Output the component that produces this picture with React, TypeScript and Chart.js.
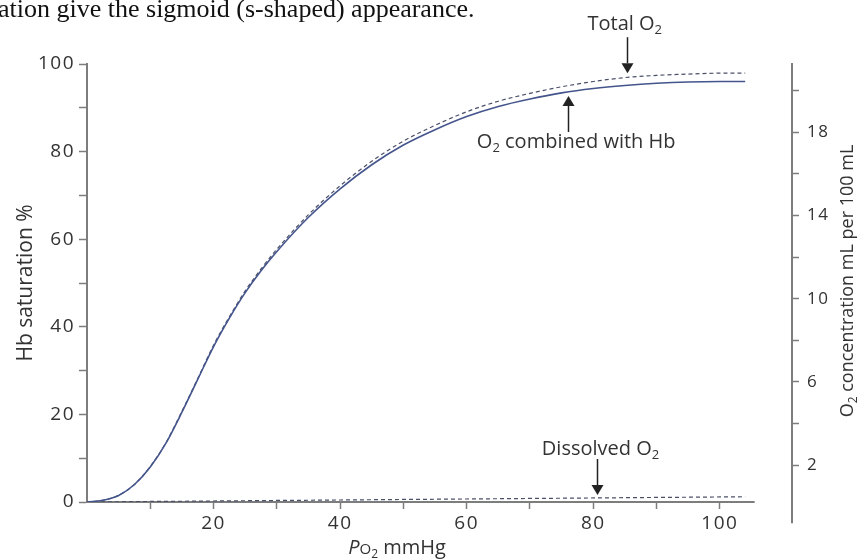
import React, { useEffect, useRef } from 'react';
import { Chart, registerables } from 'chart.js';

Chart.register(...registerables);

// ---- data ----
const po2 = [0, 2.5, 5, 7.5, 10, 12.5, 15, 17.5, 20, 22.5, 25, 27.5, 30, 35, 40, 45, 50, 55, 60, 65, 70, 75, 80, 85, 90, 95, 100, 104];
const hbSaturation = [0, 0.4, 1.5, 4, 8, 13.5, 20.5, 28, 35.5, 42, 47.8, 52.8, 57.2, 65, 71.5, 77, 81.5, 85, 88, 90.3, 92, 93.4, 94.4, 95.1, 95.6, 95.9, 96.0, 96.0];
const totalO2 = [0, 0.4, 1.5, 4, 8.1, 13.6, 20.7, 28.2, 35.8, 42.3, 48.2, 53.2, 57.7, 65.6, 72.2, 77.8, 82.4, 86.0, 89.1, 91.5, 93.3, 94.8, 96.0, 96.9, 97.4, 97.7, 97.9, 97.9];
const dissolvedO2 = [0, 0.03, 0.06, 0.09, 0.12, 0.15, 0.17, 0.2, 0.23, 0.26, 0.29, 0.32, 0.35, 0.4, 0.46, 0.52, 0.58, 0.63, 0.69, 0.75, 0.81, 0.86, 0.92, 0.98, 1.04, 1.09, 1.15, 1.2];

const leftTickLabels = [0, 20, 40, 60, 80, 100];
const rightTickLabels = [2, 6, 10, 14, 18];
const xTickLabels = [20, 40, 60, 80, 100];

const FONT = '"Open Sans", "Noto Sans", sans-serif';
const AXIS = '#7d7d7d';
const TEXT = '#333333';
const LINE = '#44548c';
const DASH = '#4a5068';

type Part = { t: string; size: number; dy?: number; italic?: boolean };

function partsWidth(ctx: CanvasRenderingContext2D, parts: Part[]) {
  let w = 0;
  for (const p of parts) {
    ctx.font = `${p.italic ? 'italic ' : ''}${p.size}px ${FONT}`;
    w += ctx.measureText(p.t).width;
  }
  return w;
}

function drawParts(ctx: CanvasRenderingContext2D, parts: Part[], x: number, y: number, align: 'left' | 'center' | 'right') {
  ctx.save();
  (ctx as any).letterSpacing = '0px';
  ctx.textBaseline = 'alphabetic';
  ctx.textAlign = 'left';
  ctx.fillStyle = TEXT;
  const w = partsWidth(ctx, parts);
  let cx = align === 'left' ? x : align === 'center' ? x - w / 2 : x - w;
  for (const p of parts) {
    ctx.font = `${p.italic ? 'italic ' : ''}${p.size}px ${FONT}`;
    ctx.fillText(p.t, cx, y + (p.dy || 0));
    cx += ctx.measureText(p.t).width;
  }
  ctx.restore();
}

function drawArrow(ctx: CanvasRenderingContext2D, x: number, tipY: number, tailY: number) {
  const dir = Math.sign(tipY - tailY);
  const head = 10;
  const half = 6;
  ctx.save();
  ctx.strokeStyle = '#222';
  ctx.fillStyle = '#222';
  ctx.lineWidth = 1.5;
  ctx.beginPath();
  ctx.moveTo(x, tailY);
  ctx.lineTo(x, tipY - dir * head);
  ctx.stroke();
  ctx.beginPath();
  ctx.moveTo(x, tipY);
  ctx.lineTo(x - half, tipY - dir * head);
  ctx.lineTo(x + half, tipY - dir * head);
  ctx.closePath();
  ctx.fill();
  ctx.restore();
}

// annotation anchors: arrow tip in data units, text offsets in px from the tip
const annotations = [
  { parts: [{ t: 'Total O', size: 20 }, { t: '2', size: 13, dy: 4 }], x: 85.3, y: 97.9, len: -36, align: 'left' as const, dx: -40, dy: -43 },
  { parts: [{ t: 'O', size: 20 }, { t: '2', size: 13, dy: 4 }, { t: ' combined with Hb', size: 20 }], x: 76.0, y: 92.7, len: 36, align: 'right' as const, dx: 107, dy: 52 },
  { parts: [{ t: 'Dissolved O', size: 20 }, { t: '2', size: 13, dy: 4 }], x: 80.6, y: 1.6, len: -36, align: 'center' as const, dx: 3, dy: -40 },
];

const overlayPlugin = {
  id: 'overlay',
  beforeDraw(chart: any) {
    (chart.ctx as any).letterSpacing = '1.5px';
  },
  beforeDatasetsDraw(chart: any) {
    const { ctx, chartArea, scales } = chart;
    const x = scales.x;
    const y2 = scales.y2;
    ctx.save();
    ctx.strokeStyle = AXIS;
    ctx.lineWidth = 2;
    ctx.beginPath();
    ctx.moveTo(x.getPixelForValue(0) - 1, chartArea.bottom);
    ctx.lineTo(x.getPixelForValue(105.5), chartArea.bottom);
    ctx.stroke();
    ctx.beginPath();
    ctx.moveTo(chartArea.right, chartArea.bottom);
    ctx.lineTo(chartArea.right, y2.getPixelForValue(-0.8));
    ctx.stroke();
    ctx.restore();
  },
  afterDraw(chart: any) {
    const { ctx, chartArea, scales } = chart;
    (ctx as any).letterSpacing = '0px';
    const x = scales.x;
    const y = scales.y;
    for (const a of annotations) {
      const px = Math.round(x.getPixelForValue(a.x)) + 0.5;
      const tip = y.getPixelForValue(a.y);
      drawArrow(ctx, px, tip, tip + a.len);
      drawParts(ctx, a.parts, px + a.dx, tip + a.dy, a.align);
    }
    drawParts(ctx, [
      { t: 'P', size: 20, italic: true },
      { t: 'O', size: 15 },
      { t: '2', size: 12, dy: 4 },
      { t: ' mmHg', size: 20 },
    ], x.getPixelForValue(49), 554, 'center');
    ctx.save();
    ctx.translate(25, (chartArea.top + chartArea.bottom) / 2);
    ctx.rotate(-Math.PI / 2);
    drawParts(ctx, [{ t: 'Hb saturation %', size: 21 }], 0, 7, 'center');
    ctx.restore();
    ctx.save();
    ctx.translate(847, 281);
    ctx.rotate(-Math.PI / 2);
    drawParts(ctx, [
      { t: 'O', size: 18 },
      { t: '2', size: 12, dy: 4 },
      { t: ' concentration mL per 100 mL', size: 18 },
    ], 0, 6, 'center');
    ctx.restore();
  },
};

export default function App() {
  const ref = useRef<HTMLCanvasElement | null>(null);
  useEffect(() => {
    if (!ref.current) return;
    const pts = (ys: number[]) => po2.map((v, i) => ({ x: v, y: ys[i] }));
    const chart = new Chart(ref.current, {
      type: 'line',
      data: {
        datasets: [
          { label: 'O2 combined with Hb', data: pts(hbSaturation), borderColor: LINE, borderWidth: 1.6, pointRadius: 0, cubicInterpolationMode: 'monotone', fill: false },
          { label: 'Total O2', data: pts(totalO2), borderColor: DASH, borderWidth: 1.2, borderDash: [4, 3], pointRadius: 0, cubicInterpolationMode: 'monotone', fill: false },
          { label: 'Dissolved O2', data: pts(dissolvedO2), borderColor: DASH, borderWidth: 1.2, borderDash: [4, 3], pointRadius: 0, fill: false },
        ],
      },
      options: {
        animation: false,
        responsive: false,
        devicePixelRatio: 1,
        layout: { padding: { top: 64, left: 0, right: 0, bottom: 0 } },
        plugins: { legend: { display: false }, tooltip: { enabled: false }, title: { display: false } },
        scales: {
          x: {
            type: 'linear',
            min: 0,
            max: 111.4,
            afterFit: (s: any) => { s.height = 57; },
            border: { display: false },
            grid: {
              drawOnChartArea: false,
              drawTicks: true,
              tickLength: 7,
              tickWidth: 1.5,
              tickColor: (c: any) => (c.tick && c.tick.value > 0 && c.tick.value <= 100 ? AXIS : 'rgba(0,0,0,0)'),
            },
            ticks: {
              stepSize: 10,
              includeBounds: false,
              padding: 3,
              maxRotation: 0,
              autoSkip: false,
              color: TEXT,
              font: { family: FONT, size: 19 },
              callback: (v: any) => (xTickLabels.includes(Number(v)) ? String(v) : ''),
            },
          },
          y: {
            type: 'linear',
            position: 'left',
            min: 0,
            max: 100,
            afterFit: (s: any) => { s.width = 87; },
            border: { display: true, color: AXIS, width: 2 },
            grid: { drawOnChartArea: false, drawTicks: true, tickLength: 8, tickWidth: 1.5, tickColor: AXIS },
            ticks: {
              stepSize: 10,
              padding: 4,
              autoSkip: false,
              color: TEXT,
              font: { family: FONT, size: 19 },
              callback: (v: any) => (leftTickLabels.includes(Number(v)) ? String(v) : ''),
            },
          },
          y2: {
            type: 'linear',
            position: 'right',
            min: 0.226,
            max: 21.28,
            afterFit: (s: any) => { s.width = 71; },
            border: { display: true, color: AXIS, width: 2 },
            grid: { drawOnChartArea: false, drawTicks: true, tickLength: 7, tickWidth: 1.5, tickColor: AXIS },
            ticks: {
              stepSize: 2,
              includeBounds: false,
              padding: 8,
              autoSkip: false,
              color: TEXT,
              font: { family: FONT, size: 17 },
              callback: (v: any) => (rightTickLabels.includes(Number(v)) ? String(v) : ''),
            },
          },
        },
      },
      plugins: [overlayPlugin],
    } as any);
    return () => chart.destroy();
  }, []);

  return (
    <div style={{ position: 'fixed', left: 0, top: 0, width: 863, height: 559, background: '#fff', overflow: 'hidden' }}>
      <canvas ref={ref} width={863} height={559} style={{ position: 'absolute', left: 0, top: 0, width: 863, height: 559 }} />
      <div
        style={{
          position: 'absolute',
          left: -2,
          top: -4,
          fontFamily: '"Liberation Serif", "Times New Roman", serif',
          fontSize: 26,
          lineHeight: '26px',
          color: '#111',
          whiteSpace: 'nowrap',
          pointerEvents: 'none',
        }}
      >
        ation give the sigmoid (s-shaped) appearance.
      </div>
    </div>
  );
}
